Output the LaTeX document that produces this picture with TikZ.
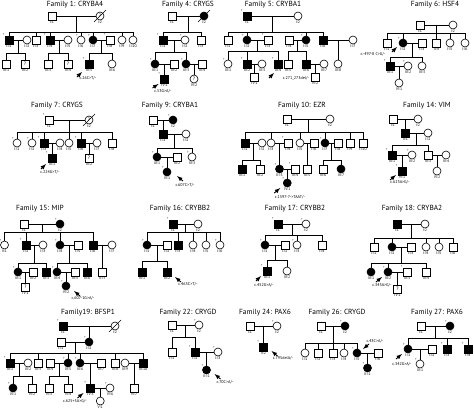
\documentclass[tikz,border=0pt]{standalone}
\usepackage{fontspec}
\setmainfont{PT Sans}
\usepackage{tikz}
\usetikzlibrary{arrows,positioning,calc}

\tikzset{
  m/.style={draw,rectangle,minimum size=8pt,inner sep=0pt,fill=white,font=\fontsize{4.8}{4.8}\selectfont},
  f/.style={draw,circle,minimum size=8pt,inner sep=0pt,fill=white,font=\fontsize{4.8}{4.8}\selectfont},
  am/.style={m,fill=black},
  af/.style={f,fill=black},
  lbl/.style={font=\fontsize{3.8}{3.8}\selectfont,inner sep=0.6pt},
  lb/.style={label={[lbl]below:#1}},
  exm/.style={font=\fontsize{3.2}{3.2}\selectfont,inner sep=0pt},
  ex/.style={label={[exm]135:+}},
  ttl/.style={font=\fontsize{7.4}{7.4}\selectfont},
  mut/.style={font=\fontsize{4.1}{4.1}\selectfont,inner sep=0pt},
  pb/.style={-latex,line width=0.9pt}
}
% sibship: parent midpoint, drop, children
\newcommand\sibs[3]{\draw (#1) -- ++(0,#2) coordinate (sb);
  \foreach \c in {#3} \draw (\c) |- (sb);}
\newcommand\deceased[1]{\draw ([shift={(-6,6)}]#1.center) -- ([shift={(6,-6)}]#1.center);}
\newcommand\prb[3]{\draw[pb] ([shift={(#2)}]#1.center) -- ([shift={(#3)}]#1.center);}

\begin{document}
\begin{tikzpicture}[x=1pt,y=-1pt,line width=0.6pt]
\useasboundingbox (0,0) rectangle (474,413);

% Family 1
\node[ttl] (f1t) at (75,5) {Family 1: CRYBA4};
\node[m,lb=I:1] (f1i1) at (52,16) {};
\node[f,lb=I:2] (f1i2) at (100,16) {?};
\node[am,ex,lb=II:1] (f1ii1) at (9,40) {};
\node[f,lb=II:2] (f1ii2) at (27,40) {};
\node[m,lb=II:3] (f1ii3) at (36,40) {};
\node[am,ex,lb=II:4] (f1ii4) at (50,40) {};
\node[f,lb=II:5] (f1ii5) at (68,40) {};
\node[f,ex,lb=II:6] (f1ii6) at (81,40) {};
\node[af,ex,lb=II:7] (f1ii7) at (93,40) {};
\node[m,ex,lb=II:8] (f1ii8) at (110,40) {};
\node[f,lb=II:9] (f1ii9) at (122,40) {};
\node[f,lb=II:10] (f1ii10) at (133,40) {};
\node[m,lb=III:1] (f1iii1) at (6,64) {};
\node[m,lb=III:2] (f1iii2) at (25,64) {?};
\node[m,lb=III:3] (f1iii3) at (48,64) {};
\node[m,lb=III:4] (f1iii4) at (68,64) {?};
\node[am,ex,lb=III:5] (f1iii5) at (89,64) {};
\node[f,lb=III:6] (f1iii6) at (112,64) {};
\draw (f1i1) -- coordinate (f1u) (f1i2);
\sibs{f1u}{16}{f1ii1,f1ii3,f1ii4,f1ii6,f1ii7,f1ii9,f1ii10}
\draw (f1ii1) -- coordinate (f1u1) (f1ii2);
\sibs{f1u1}{13}{f1iii1,f1iii2}
\draw (f1ii4) -- coordinate (f1u2) (f1ii5);
\sibs{f1u2}{13}{f1iii3,f1iii4}
\draw (f1ii7) -- coordinate (f1u3) (f1ii8);
\sibs{f1u3}{13}{f1iii5,f1iii6}
\deceased{f1i2}
\prb{f1iii5}{-12,13}{-7,8}
\node[mut] (f1mu) at (88,78) {c.26C>T/-};

% Family 4
\node[ttl] (f4t) at (188,5) {Family 4: CRYGS};
\node[m,lb=I:1] (f4i1) at (172,16) {};
\node[af,lb=I:2] (f4i2) at (204,16) {};
\node[am,ex,lb=II:1] (f4ii1) at (163,40) {};
\node[f,ex,lb=II:2] (f4ii2) at (185,40) {};
\node[m,lb=II:3] (f4ii3) at (201,40) {};
\node[af,ex,lb=III:1] (f4iii1) at (155,64) {};
\node[m,lb=III:2] (f4iii2) at (174,64) {};
\node[af,ex,lb=III:3] (f4iii3) at (186,64) {};
\node[m,lb=III:4] (f4iii4) at (202,64) {};
\node[am,ex,lb=IV:1] (f4iv1) at (164.5,79) {};
\node[f,lb=IV:2] (f4iv2) at (194,79) {?};
\draw (f4i1) -- coordinate (f4u) (f4i2);
\sibs{f4u}{16}{f4ii1,f4ii3}
\draw (f4ii1) -- coordinate (f4u1) (f4ii2);
\sibs{f4u1}{12}{f4iii1,f4iii3}
\draw (f4iii1) -- coordinate (f4u2) (f4iii2);
\draw (f4u2) -- (f4iv1);
\draw (f4iii3) -- coordinate (f4u3) (f4iii4);
\draw (f4u3) -- (f4iv2);
\deceased{f4i2}
\prb{f4iv1}{-12,9}{-6,5}
\node[mut] (f4mu) at (163,91) {c.53G>A/-};

% Family 5
\node[ttl] (f5t) at (273,5) {Family 5: CRYBA1};
\node[am,ex,lb=I:1] (f5i1) at (247,16) {};
\node[f,lb=I:2] (f5i2) at (298,16) {};
\node[m,lb=II:1] (f5ii1) at (228,40) {};
\node[af,ex,lb=II:2] (f5ii2) at (247,40) {};
\node[m,ex,lb=II:3] (f5ii3) at (268,40) {};
\node[m,lb=II:4] (f5ii4) at (289,40) {};
\node[af,ex,lb=II:5] (f5ii5) at (306,40) {};
\node[am,lb=II:6] (f5ii6) at (323,40) {};
\node[f,lb=II:7] (f5ii7) at (353,40) {};
\node[f,ex,lb=III:1] (f5iii1) at (228,64) {};
\node[am,ex,lb=III:2] (f5iii2) at (247,64) {};
\node[f,lb=III:3] (f5iii3) at (262,64) {};
\node[am,ex,lb=III:4] (f5iii4) at (278,64) {};
\node[m,lb=III:5] (f5iii5) at (288,64) {};
\node[am,lb=III:6] (f5iii6) at (306,64) {};
\node[f,lb=III:7] (f5iii7) at (324,64) {};
\node[f,lb=III:8] (f5iii8) at (338,64) {};
\node[m,lb=IV:1] (f5iv1) at (254.5,77) {};
\node[m,lb=IV:2] (f5iv2) at (315,77) {};
\draw (f5i1) -- coordinate (f5u) (f5i2);
\sibs{f5u}{16}{f5ii1,f5ii2,f5ii5,f5ii6}
\draw (f5ii2) -- coordinate (f5u1) (f5ii3);
\sibs{f5u1}{11}{f5iii1,f5iii2,f5iii4}
\draw (f5ii4) -- coordinate (f5u2) (f5ii5);
\sibs{f5u2}{11}{f5iii5,f5iii6}
\draw (f5ii6) -- coordinate (f5u3) (f5ii7);
\draw (f5u3) -- (f5iii8);
\draw (f5iii2) -- coordinate (f5u4) (f5iii3);
\draw (f5u4) -- (f5iv1);
\draw (f5iii6) -- coordinate (f5u5) (f5iii7);
\draw (f5u5) -- (f5iv2);
\prb{f5iii4}{-9,14}{-4,9}
\node[mut] (f5mu) at (296,78) {c.271\_273del/-};

% Family 6
\node[ttl] (f6t) at (435,5) {Family 6: HSF4};
\node[m,lb=I:1] (f6i1) at (420,25) {};
\node[f,lb=I:2] (f6i2) at (453,25) {};
\node[m,lb=II:1] (f6ii1) at (387,43) {};
\node[af,ex,lb=II:2] (f6ii2) at (403,43) {};
\node[m,lb=II:3] (f6ii3) at (422,43) {};
\node[m,lb=II:4] (f6ii4) at (436.5,43) {};
\node[f,lb=II:5] (f6ii5) at (450,43) {};
\node[f,lb=II:6] (f6ii6) at (465,43) {};
\node[am,ex,lb=III:1] (f6iii1) at (390,66) {};
\node[f,ex,lb=III:2] (f6iii2) at (408,66) {};
\node[f,lb=III:3] (f6iii3) at (422,66) {};
\node[f,lb=IV:1] (f6iv1) at (399,83) {};
\draw (f6i1) -- coordinate (f6u) (f6i2);
\sibs{f6u}{8}{f6ii1,f6ii2,f6ii4,f6ii5,f6ii6}
\draw (f6ii2) -- coordinate (f6u1) (f6ii3);
\sibs{f6u1}{14}{f6iii1,f6iii3}
\draw (f6iii1) -- coordinate (f6u2) (f6iii2);
\draw (f6u2) -- (f6iv1);
\prb{f6ii2}{-11,9}{-6,4}
\node[mut] (f6mu) at (373,54) {c.-497-8 C>G/-};

% Family 7
\node[ttl] (f7t) at (57,106) {Family 7: CRYGS};
\node[m,ex,lb=I:1] (f7i1) at (49,120) {};
\node[f,lb=I:2] (f7i2) at (89,120) {?};
\node[f,ex,lb=II:1] (f7ii1) at (17,143) {};
\node[f,ex,lb=II:2] (f7ii2) at (32,143) {};
\node[am,ex,lb=II:3] (f7ii3) at (44,143) {};
\node[f,lb=II:4] (f7ii4) at (60,143) {};
\node[f,lb=II:5] (f7ii5) at (69,143) {};
\node[am,ex,lb=II:6] (f7ii6) at (81,143) {};
\node[f,lb=II:7] (f7ii7) at (97,143) {};
\node[m,lb=II:8] (f7ii8) at (112,143) {};
\node[am,ex,lb=III:1] (f7iii1) at (52,158) {};
\node[m,lb=III:2] (f7iii2) at (89,158) {?};
\draw (f7i1) -- coordinate (f7u) (f7i2);
\sibs{f7u}{12}{f7ii1,f7ii2,f7ii3,f7ii5,f7ii6,f7ii8}
\draw (f7ii3) -- coordinate (f7u1) (f7ii4);
\draw (f7u1) -- (f7iii1);
\draw (f7ii6) -- coordinate (f7u2) (f7ii7);
\draw (f7u2) -- (f7iii2);
\deceased{f7i2}
\prb{f7iii1}{-11,11}{-6,6}
\node[mut] (f7mu) at (50,172) {c.224G>T/-};

% Family 9
\node[ttl] (f9t) at (170,106) {Family 9: CRYBA1};
\node[m,lb=I:1] (f9i1) at (153,120) {};
\node[af,ex,lb=I:2] (f9i2) at (173,120) {};
\node[am,lb=II:1] (f9ii1) at (163,134) {};
\node[f,lb=II:2] (f9ii2) at (186,134) {};
\node[af,ex,lb=III:1] (f9iii1) at (157,157) {};
\node[m,lb=III:2] (f9iii2) at (177,157) {};
\node[f,ex,lb=III:3] (f9iii3) at (192,157) {};
\node[af,ex,lb=IV:1] (f9iv1) at (167,172) {};
\draw (f9i1) -- coordinate (f9u) (f9i2);
\draw (f9u) -- (f9ii1);
\draw (f9ii1) -- coordinate (f9u1) (f9ii2);
\sibs{f9u1}{14}{f9iii1,f9iii3}
\draw (f9iii1) -- coordinate (f9u2) (f9iii2);
\draw (f9u2) -- (f9iv1);
\prb{f9iv1}{16,9}{10,4}
\node[mut] (f9mu) at (185,185) {c.607C>T/-};

% Family 10
\node[ttl] (f10t) at (302,106) {Family 10: EZR};
\node[m,lb=I:1] (f10i1) at (287,119) {};
\node[f,lb=I:2] (f10i2) at (330,119) {};
\node[am,lb=II:1] (f10ii1) at (245,143) {};
\node[f,lb=II:2] (f10ii2) at (262,143) {};
\node[f,lb=II:3] (f10ii3) at (271,143) {};
\node[m,ex,lb=II:4] (f10ii4) at (288,143) {};
\node[f,lb=II:5] (f10ii5) at (300,143) {};
\node[m,lb=II:6] (f10ii6) at (314,143) {};
\node[af,ex,lb=II:7] (f10ii7) at (325,143) {};
\node[m,lb=II:8] (f10ii8) at (338,143) {};
\node[m,lb=II:9] (f10ii9) at (350,143) {};
\node[m,lb=II:10] (f10ii10) at (363,143) {};
\node[am,lb=III:1] (f10iii1) at (242,169) {};
\node[m,lb=III:2] (f10iii2) at (260,169) {};
\node[af,ex,lb=III:3] (f10iii3) at (279.5,169) {};
\node[m,ex,lb=III:4] (f10iii4) at (295,169) {};
\node[m,lb=III:5] (f10iii5) at (307,169) {};
\node[m,lb=III:6] (f10iii6) at (323,169) {};
\node[af,lb=III:7] (f10iii7) at (341,169) {};
\node[af,ex,lb=IV:1] (f10iv1) at (287.25,183) {};
\draw (f10i1) -- coordinate (f10u) (f10i2);
\sibs{f10u}{13}{f10ii1,f10ii3,f10ii5,f10ii7,f10ii9,f10ii10}
\draw (f10ii1) -- coordinate (f10u1) (f10ii2);
\sibs{f10u1}{17}{f10iii1,f10iii2}
\draw (f10ii3) -- coordinate (f10u2) (f10ii4);
\draw (f10u2) -- (f10iii3);
\draw (f10ii5) -- coordinate (f10u3) (f10ii6);
\draw (f10u3) -- (f10iii5);
\draw (f10ii7) -- coordinate (f10u4) (f10ii8);
\sibs{f10u4}{17}{f10iii6,f10iii7}
\draw (f10iii3) -- coordinate (f10u5) (f10iii4);
\draw (f10u5) -- (f10iv1);
\prb{f10iv1}{-13,10}{-7,5}
\node[mut] (f10mu) at (290,197) {c.1597-7->TAAT/-};

% Family 14
\node[ttl] (f14t) at (427,106) {Family 14: VIM};
\node[m,lb=I:1] (f14i1) at (393,119) {};
\node[f,lb=I:2] (f14i2) at (418,119) {};
\node[am,lb=II:1] (f14ii1) at (405.5,133) {};
\node[f,lb=II:2] (f14ii2) at (428,133) {};
\node[am,ex,lb=III:1] (f14iii1) at (392,155) {};
\node[f,ex,lb=III:2] (f14iii2) at (412,155) {};
\node[m,lb=III:3] (f14iii3) at (428,155) {};
\node[f,lb=III:4] (f14iii4) at (446,155) {};
\node[am,ex,lb=IV:1] (f14iv1) at (402,171) {};
\node[f,lb=IV:2] (f14iv2) at (437,171) {};
\draw (f14i1) -- coordinate (f14u) (f14i2);
\draw (f14u) -- (f14ii1);
\draw (f14ii1) -- coordinate (f14u1) (f14ii2);
\sibs{f14u1}{12}{f14iii1,f14iii3}
\draw (f14iii1) -- coordinate (f14u2) (f14iii2);
\draw (f14u2) -- (f14iv1);
\draw (f14iii3) -- coordinate (f14u3) (f14iii4);
\draw (f14u3) -- (f14iv2);
\prb{f14iv1}{-12,9}{-6,4}
\node[mut] (f14mu) at (400,182) {c.623A>G/-};

% Family 15
\node[ttl] (f15t) at (40,209) {Family 15: MIP};
\node[m,lb=I:1] (f15i1) at (24,224) {};
\node[af,ex,lb=I:2] (f15i2) at (60,224) {};
\node[f,ex,lb=II:1] (f15ii1) at (4.5,245) {};
\node[am,ex,lb=II:2] (f15ii2) at (26,245) {};
\node[f,lb=II:3] (f15ii3) at (43,245) {};
\node[af,ex,lb=II:4] (f15ii4) at (60,245) {};
\node[m,lb=II:5] (f15ii5) at (78,245) {};
\node[am,lb=II:6] (f15ii6) at (93,245) {};
\node[f,lb=II:7] (f15ii7) at (112,245) {};
\node[af,ex,lb=III:1] (f15iii1) at (18,272) {};
\node[m,lb=III:2] (f15iii2) at (33,272) {};
\node[am,lb=III:3] (f15iii3) at (46,272) {};
\node[af,ex,lb=III:4] (f15iii4) at (57,272) {};
\node[m,lb=III:5] (f15iii5) at (75,272) {};
\node[am,lb=III:6] (f15iii6) at (87,272) {};
\node[m,lb=III:7] (f15iii7) at (102.5,272) {};
\node[m,lb=IV:1] (f15iv1) at (25.5,287) {?};
\node[af,ex,lb=IV:2] (f15iv2) at (66,286) {};
\draw (f15i1) -- coordinate (f15u) (f15i2);
\sibs{f15u}{8}{f15ii1,f15ii2,f15ii4,f15ii6}
\draw (f15ii2) -- coordinate (f15u1) (f15ii3);
\sibs{f15u1}{18}{f15iii1,f15iii3}
\draw (f15ii4) -- coordinate (f15u2) (f15ii5);
\sibs{f15u2}{18}{f15iii4,f15iii6}
\draw (f15ii6) -- coordinate (f15u3) (f15ii7);
\draw (f15u3) -- (f15iii7);
\draw (f15iii1) -- coordinate (f15u4) (f15iii2);
\draw (f15u4) -- (f15iv1);
\draw (f15iii4) -- coordinate (f15u5) (f15iii5);
\draw (f15u5) -- (f15iv2);
\prb{f15iv2}{14,10}{8,5}
\node[mut] (f15mu) at (83,298) {c.607-1G>A/-};

% Family 16
\node[ttl] (f16t) at (180,209) {Family 16: CRYBB2};
\node[am,ex,lb=I:1] (f16i1) at (173,224) {};
\node[f,lb=I:2] (f16i2) at (198,224) {};
\node[af,ex,lb=II:1] (f16ii1) at (147,245) {};
\node[m,lb=II:2] (f16ii2) at (167,245) {};
\node[am,lb=II:3] (f16ii3) at (178,245) {};
\node[f,lb=II:4] (f16ii4) at (193,245) {};
\node[f,lb=II:5] (f16ii5) at (206,245) {};
\node[f,ex,lb=II:6] (f16ii6) at (220,245) {};
\node[am,lb=III:1] (f16iii1) at (142,272) {};
\node[am,lb=III:2] (f16iii2) at (167,272) {};
\draw (f16i1) -- coordinate (f16u) (f16i2);
\sibs{f16u}{8}{f16ii1,f16ii3,f16ii4,f16ii5,f16ii6}
\draw (f16ii1) -- coordinate (f16u1) (f16ii2);
\sibs{f16u1}{16}{f16iii1,f16iii2}
\prb{f16iii2}{14,10}{8,5}
\node[mut] (f16mu) at (188,284) {c.463C>T/-};

% Family 17
\node[ttl] (f17t) at (295,209) {Family 17: CRYBB2};
\node[am,ex,lb=I:1] (f17i1) at (278,224) {};
\node[f,ex,lb=I:2] (f17i2) at (306,224) {};
\node[af,ex,lb=II:1] (f17ii1) at (265,245) {};
\node[m,lb=II:2] (f17ii2) at (285,245) {};
\node[f,ex,lb=II:3] (f17ii3) at (297,245) {};
\node[m,lb=II:4] (f17ii4) at (322,245) {};
\node[am,ex,lb=III:1] (f17iii1) at (267,271) {};
\node[f,lb=III:2] (f17iii2) at (287,271) {};
\draw (f17i1) -- coordinate (f17u) (f17i2);
\sibs{f17u}{11}{f17ii1,f17ii3,f17ii4}
\draw (f17ii1) -- coordinate (f17u1) (f17ii2);
\sibs{f17u1}{15}{f17iii1,f17iii2}
\prb{f17iii1}{-11,10}{-6,5}
\node[mut] (f17mu) at (264,285) {c.452G>A/-};

% Family 18
\node[ttl] (f18t) at (412,209) {Family 18: CRYBA2};
\node[am,lb=I:1] (f18i1) at (397,224) {};
\node[f,lb=I:2] (f18i2) at (425,224) {};
\node[m,lb=II:1] (f18ii1) at (374,247) {};
\node[af,lb=II:2] (f18ii2) at (392,247) {};
\node[m,lb=II:3] (f18ii3) at (411,247) {};
\node[f,lb=II:4] (f18ii4) at (426,247) {};
\node[f,lb=II:5] (f18ii5) at (439,247) {};
\node[m,lb=II:6] (f18ii6) at (453,247) {};
\node[af,lb=III:1] (f18iii1) at (371,272) {};
\node[af,ex,lb=III:2] (f18iii2) at (388,272) {};
\node[m,ex,lb=III:3] (f18iii3) at (407,272) {};
\node[m,lb=III:4] (f18iii4) at (426,272) {};
\node[m,lb=IV:1] (f18iv1) at (397.5,289) {?};
\draw (f18i1) -- coordinate (f18u) (f18i2);
\sibs{f18u}{14}{f18ii1,f18ii2,f18ii4,f18ii5,f18ii6}
\draw (f18ii2) -- coordinate (f18u1) (f18ii3);
\sibs{f18u1}{16}{f18iii1,f18iii2,f18iii4}
\draw (f18iii2) -- coordinate (f18u2) (f18iii3);
\draw (f18u2) -- (f18iv1);
\prb{f18iii2}{-12,10}{-6,5}
\node[mut] (f18mu) at (382,285) {c.343A>G/-};

% Family 19
\node[ttl] (f19t) at (88,313) {Family19: BFSP1};
\node[am,ex,lb=I:1] (f19i1) at (63,326) {};
\node[f,lb=I:2] (f19i2) at (115,326) {};
\node[m,lb=II:1] (f19ii1) at (61,342) {};
\node[af,ex,lb=II:2] (f19ii2) at (89,342) {};
\node[am,ex,lb=III:1] (f19iii1) at (10,363) {};
\node[f,lb=III:2] (f19iii2) at (28,363) {};
\node[m,lb=III:3] (f19iii3) at (38,363) {};
\node[m,lb=III:4] (f19iii4) at (50,363) {};
\node[af,ex,lb=III:5] (f19iii5) at (68,363) {};
\node[af,ex,lb=III:6] (f19iii6) at (80,363) {};
\node[m,lb=III:7] (f19iii7) at (101,363) {};
\node[m,lb=III:8] (f19iii8) at (115,363) {};
\node[f,lb=III:9] (f19iii9) at (125,363) {};
\node[am,lb=III:10] (f19iii10) at (143,363) {};
\node[af,ex,lb=IV:1] (f19iv1) at (13,388) {};
\node[m,lb=IV:2] (f19iv2) at (32,388) {};
\node[m,lb=IV:3] (f19iv3) at (49,388) {};
\node[m,lb=IV:4] (f19iv4) at (68,388) {};
\node[am,ex,lb=IV:5] (f19iv5) at (90.5,388) {};
\node[f,ex,lb=IV:6] (f19iv6) at (110,388) {};
\node[m,lb=IV:7] (f19iv7) at (134,388) {};
\node[f,lb=V:1] (f19v1) at (100.25,401) {};
\draw (f19i1) -- (f19i2);
\draw (f19ii2) -- (f19ii2 |- f19i1);
\draw (f19ii1) -- coordinate (f19u) (f19ii2);
\sibs{f19u}{11}{f19iii1,f19iii3,f19iii5,f19iii6,f19iii8,f19iii10}
\draw (f19iii1) -- coordinate (f19u1) (f19iii2);
\sibs{f19u1}{13}{f19iv1,f19iv2}
\draw (f19iii4) -- coordinate (f19u2) (f19iii5);
\sibs{f19u2}{13}{f19iv3,f19iv4}
\draw (f19iii6) -- coordinate (f19u3) (f19iii7);
\draw (f19u3) -- (f19iv5);
\draw (f19iii9) -- coordinate (f19u4) (f19iii10);
\draw (f19u4) -- (f19iv7);
\draw (f19iv5) -- coordinate (f19u5) (f19iv6);
\draw (f19u5) -- (f19v1);
\deceased{f19i2}
\prb{f19iv5}{-13,10}{-7,5}
\node[mut] (f19mu) at (75,401) {c.625+5A>G/-};

% Family 22
\node[ttl] (f22t) at (188,313) {Family 22: CRYGD};
\node[m,lb=I:1] (f22i1) at (172,325) {};
\node[f,ex,lb=I:2] (f22i2) at (199,325) {};
\node[m,lb=II:1] (f22ii1) at (172,352) {};
\node[am,ex,lb=II:2] (f22ii2) at (195,352) {};
\node[f,ex,lb=II:3] (f22ii3) at (218,352) {};
\node[af,ex,lb=III:1] (f22iii1) at (206.5,370) {};
\draw (f22i1) -- coordinate (f22u) (f22i2);
\sibs{f22u}{12}{f22ii1,f22ii2}
\draw (f22ii2) -- coordinate (f22u1) (f22ii3);
\draw (f22u1) -- (f22iii1);
\prb{f22iii1}{14,9}{8,4}
\node[mut] (f22mu) at (225,382) {c.70C>A/-};

% Family 24
\node[ttl] (f24t) at (265,313) {Family 24: PAX6};
\node[m,lb=I:1] (f24i1) at (250,326) {};
\node[f,ex,lb=I:2] (f24i2) at (277,326) {};
\node[am,ex,lb=II:2] (f24ii2) at (263.5,347) {};
\draw (f24i1) -- coordinate (f24u) (f24i2);
\draw (f24u) -- (f24ii2);
\prb{f24ii2}{14,9}{8,4}
\node[mut] (f24mu) at (283,358) {c.795delA/-};

% Family 26
\node[ttl] (f26t) at (337,313) {Family 26: CRYGD};
\node[m,lb=I:1] (f26i1) at (321,326) {};
\node[af,ex,lb=I:2] (f26i2) at (345,326) {};
\node[f,lb=II:1] (f26ii1) at (305,353) {};
\node[m,lb=II:2] (f26ii2) at (318,353) {};
\node[m,lb=II:3] (f26ii3) at (333,353) {};
\node[f,lb=II:4] (f26ii4) at (344,353) {};
\node[af,ex,lb=II:5] (f26ii5) at (357,353) {};
\node[m,lb=II:6] (f26ii6) at (378,353) {};
\node[af,ex,lb=III:1] (f26iii1) at (367.5,368) {};
\draw (f26i1) -- coordinate (f26u) (f26i2);
\sibs{f26u}{17}{f26ii1,f26ii2,f26ii3,f26ii4,f26ii5}
\draw (f26ii5) -- coordinate (f26u1) (f26ii6);
\draw (f26u1) -- (f26iii1);
\prb{f26ii5}{12,-9}{6,-4}
\node[mut] (f26mu) at (375,341) {c.43C>A/-};

% Family 27
\node[ttl] (f27t) at (437,313) {Family 27: PAX6};
\node[m,lb=I:1] (f27i1) at (421,326) {};
\node[af,ex,lb=I:2] (f27i2) at (450,326) {};
\node[af,ex,lb=II:1] (f27ii1) at (408,349) {};
\node[m,lb=II:2] (f27ii2) at (432,349) {};
\node[am,ex,lb=II:3] (f27ii3) at (447,349) {};
\node[am,ex,lb=II:4] (f27ii4) at (468,349) {};
\node[f,ex,lb=III:1] (f27iii1) at (420,364) {};
\draw (f27i1) -- coordinate (f27u) (f27i2);
\sibs{f27u}{12}{f27ii1,f27ii3,f27ii4}
\draw (f27ii1) -- coordinate (f27u1) (f27ii2);
\draw (f27u1) -- (f27iii1);
\prb{f27ii1}{-12,10}{-6,5}
\node[mut] (f27mu) at (402,364) {c.342G>A/-};
\end{tikzpicture}
\end{document}
